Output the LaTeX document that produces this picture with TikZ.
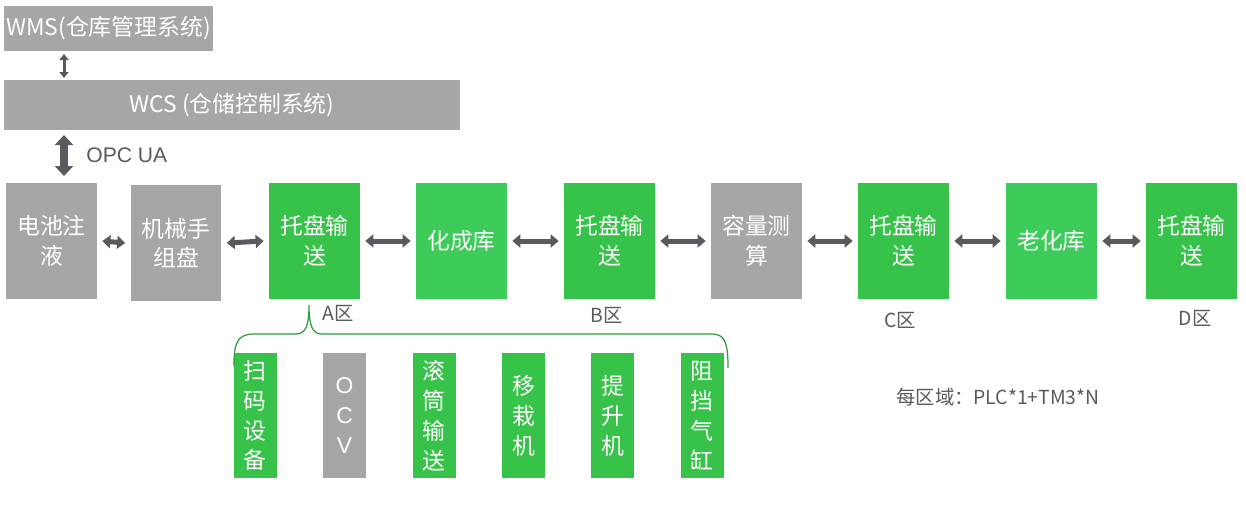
\documentclass[tikz,border=0pt]{standalone}
\usepackage{fontspec}
\setmainfont{Liberation Sans}
\newfontfamily\cjk{Noto Sans CJK SC}
\usetikzlibrary{arrows.meta, positioning}
\definecolor{boxgrey}{HTML}{A6A6A6}
\definecolor{boxgreen}{HTML}{37C24A}
\definecolor{boxlight}{HTML}{3DCC5A}
\definecolor{arrowgrey}{HTML}{5A5A5E}
\tikzstyle{greybox} = [rectangle, fill=boxgrey, text=white, align=center, inner sep=0pt, font=\cjk\fontsize{13}{17}\selectfont]
\tikzstyle{station} = [rectangle, minimum width=1.82cm, minimum height=2.32cm, text=white, align=center, inner sep=0pt, font=\cjk\fontsize{13}{17}\selectfont]
\tikzstyle{device} = [rectangle, minimum width=0.86cm, minimum height=2.5cm, text=white, align=center, inner sep=0pt, font=\cjk\fontsize{13}{17}\selectfont]
\tikzstyle{link} = [line width=0.1cm, arrowgrey, {Triangle[length=0.16cm,width=0.26cm]}-{Triangle[length=0.16cm,width=0.26cm]}]
\tikzstyle{zone} = [text=arrowgrey, font=\cjk\fontsize{11}{13}\selectfont]

\begin{document}
\begin{tikzpicture}[x=0.02cm, y=-0.02cm]
  \useasboundingbox (0,0) rectangle (1246,505);

  \node (wms) [greybox, minimum width=4.18cm, minimum height=0.9cm] at (108.5,28.5) {WMS(仓库管理系统)};
  \node (wcs) [greybox, minimum width=9.12cm, minimum height=1cm] at (232,105) {WCS (仓储控制系统)};

  \node (s1) [station, fill=boxgrey] at (51.5,241) {电池注\\液};
  \node (s2) [station, fill=boxgrey] at (176,243) {机械手\\组盘};
  \node (s3) [station, fill=boxgreen] at (314.5,241) {托盘输\\送};
  \node (s4) [station, fill=boxlight] at (461.5,241) {化成库};
  \node (s5) [station, fill=boxgreen] at (609.5,241) {托盘输\\送};
  \node (s6) [station, fill=boxgrey] at (756.5,241) {容量测\\算};
  \node (s7) [station, fill=boxgreen] at (903.5,241) {托盘输\\送};
  \node (s8) [station, fill=boxlight] at (1051.5,241) {老化库};
  \node (s9) [station, fill=boxgreen] at (1191.5,241) {托盘输\\送};

  \node (za) [zone] at (338,313) {A区};
  \node (zb) [zone] at (607,315) {B区};
  \node (zc) [zone] at (900,320) {C区};
  \node (zd) [zone] at (1195,318) {D区};

  \node (d1) [device, fill=boxgreen] at (255,415.5) {扫\\码\\设\\备};
  \node (d2) [device, fill=boxgrey, font=\fontsize{13}{17}\selectfont] at (344.5,415.5) {O\\C\\V};
  \node (d3) [device, fill=boxgreen] at (434,415.5) {滚\\筒\\输\\送};
  \node (d4) [device, fill=boxgreen] at (523.5,415.5) {移\\栽\\机};
  \node (d5) [device, fill=boxgreen] at (612.5,415.5) {提\\升\\机};
  \node (d6) [device, fill=boxgreen] at (702,415.5) {阻\\挡\\气\\缸};

  \node (note) [text=arrowgrey, font=\cjk\fontsize{11}{13}\selectfont] at (998,397) {每区域：PLC*1+TM3*N};

  \coordinate (wmsdown) at (64,54);
  \coordinate (wcsup) at (64,78);
  \coordinate (wcsdown) at (64,135);
  \coordinate (s1up) at (64,176);
  \draw [link, line width=0.06cm, {Triangle[length=0.12cm,width=0.18cm]}-{Triangle[length=0.12cm,width=0.18cm]}] (wmsdown) -- (wcsup);
  \draw [link, line width=0.16cm, {Triangle[length=0.2cm,width=0.36cm]}-{Triangle[length=0.2cm,width=0.36cm]}] (wcsdown) -- node[right=0.25cm, text=arrowgrey, font=\fontsize{12}{14}\selectfont] {OPC UA} (s1up);

  \foreach \a/\b in {s1/s2, s2/s3, s3/s4, s4/s5, s5/s6, s6/s7, s7/s8, s8/s9}
    \draw [link] ([xshift=0.1cm]\a.east) -- ([xshift=-0.1cm]\b.west);

  % brace under zone A
  \draw [boxgreen!80!black, line width=0.7pt] (234,366) .. controls (234,345) and (236,334) .. (254,334) -- (296,334) .. controls (306,334) and (309,325) .. (309,305)
    (309,305) .. controls (309,325) and (312,334) .. (322,334) -- (712,334) .. controls (726,334) and (728,345) .. (728,368);
\end{tikzpicture}
\end{document}
